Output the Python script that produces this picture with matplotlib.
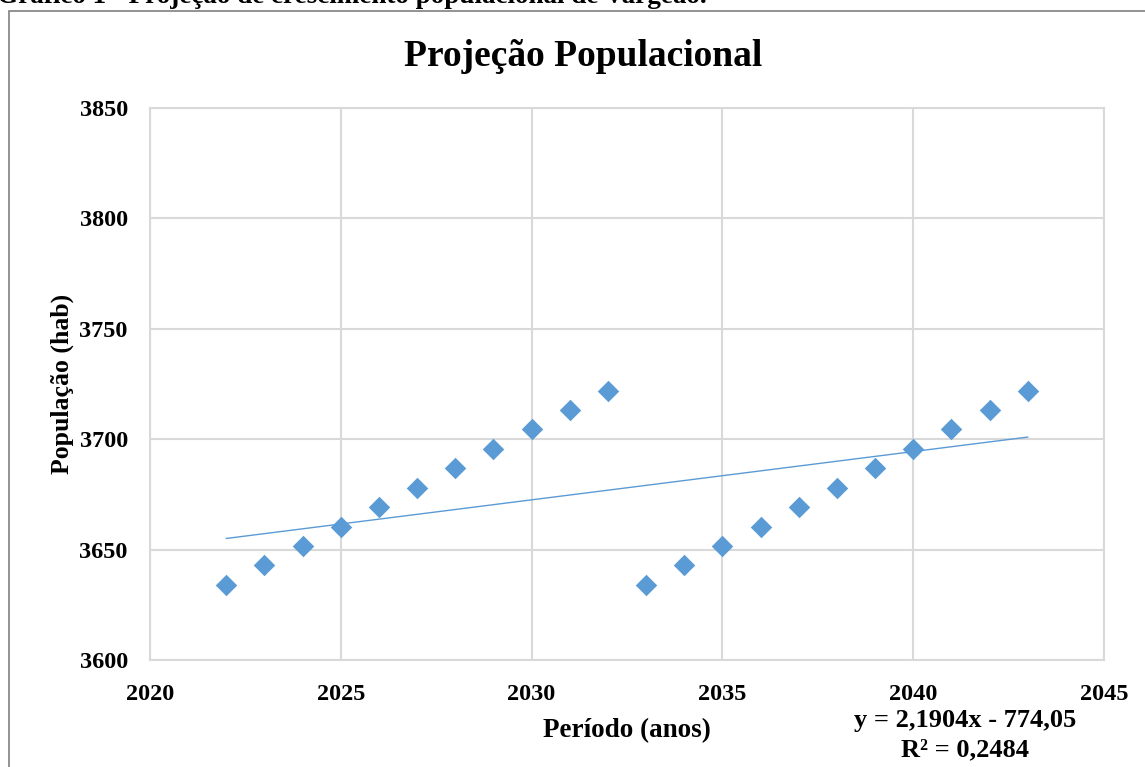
import matplotlib.pyplot as plt
import numpy as np

# dados
anos = np.arange(2022, 2044)
populacao = [3634, 3642.8, 3651.6, 3660.4, 3669.2, 3678, 3686.8, 3695.6, 3704.4, 3713.2, 3722,
             3634, 3642.8, 3651.6, 3660.4, 3669.2, 3678, 3686.8, 3695.6, 3704.4, 3713.2, 3722]
eq_txt = "y = 2,1904x - 774,05"
r2_txt = "R² = 0,2484"

plt.rcParams['font.family'] = ['Liberation Serif', 'DejaVu Serif']
plt.rcParams['font.weight'] = 'bold'

fig = plt.figure(figsize=(11.45, 7.67), dpi=100)
ax = fig.add_axes([150/1145, 1 - 660/767, (1104-150)/1145, (660-108)/767])

azul = '#5B9BD5'
cinza = '#D9D9D9'

ax.scatter(anos, populacao, marker='D', s=120, color=azul, zorder=3, linewidths=0)

# linha de tendencia
coef = np.polyfit(anos, populacao, 1)
xt = np.array([anos[0], anos[-1]])
ax.plot(xt, np.polyval(coef, xt), color=azul, lw=1, zorder=2)

ax.set_xlim(2020, 2045)
ax.set_ylim(3600, 3850)
ax.set_xticks(np.arange(2020, 2046, 5))
ax.set_yticks(np.arange(3600, 3851, 50))
ax.grid(True, color=cinza, lw=1.5)
ax.set_axisbelow(True)
for s in ax.spines.values():
    s.set_color(cinza)
    s.set_linewidth(1.5)
ax.tick_params(length=0, labelsize=17.5, pad=16)
ax.tick_params(axis='x', pad=17)
for lab in ax.get_xticklabels() + ax.get_yticklabels():
    lab.set_fontweight('bold')

fig.text(583/1145, 1 - 56/767, 'Projeção Populacional', fontsize=27, fontweight='bold',
         ha='center', va='center')
ax.set_xlabel('Período (anos)', fontsize=19.5, fontweight='bold', labelpad=10)
ax.set_ylabel('População (hab)', fontsize=18.5, fontweight='bold', labelpad=4)

fig.text(965/1145, 1 - 720/767, eq_txt, fontsize=19, fontweight='bold', ha='center', va='center')
fig.text(965/1145, 1 - 750/767, r2_txt, fontsize=19, fontweight='bold', ha='center', va='center')

# titulo do documento (cortado no topo) e moldura
fig.text(-3/1145, 1 - 3/767, 'Gráfico 1 - Projeção de crescimento populacional de Vargeão.',
         fontsize=19.5, fontweight='bold', ha='left', va='baseline')
fig.add_artist(plt.Rectangle((9/1145, -0.1), 1.2, 1 - 11/767 + 0.1, transform=fig.transFigure,
                             fill=False, edgecolor='#808080', lw=1.2))

fig.savefig('out.png', dpi=100)
